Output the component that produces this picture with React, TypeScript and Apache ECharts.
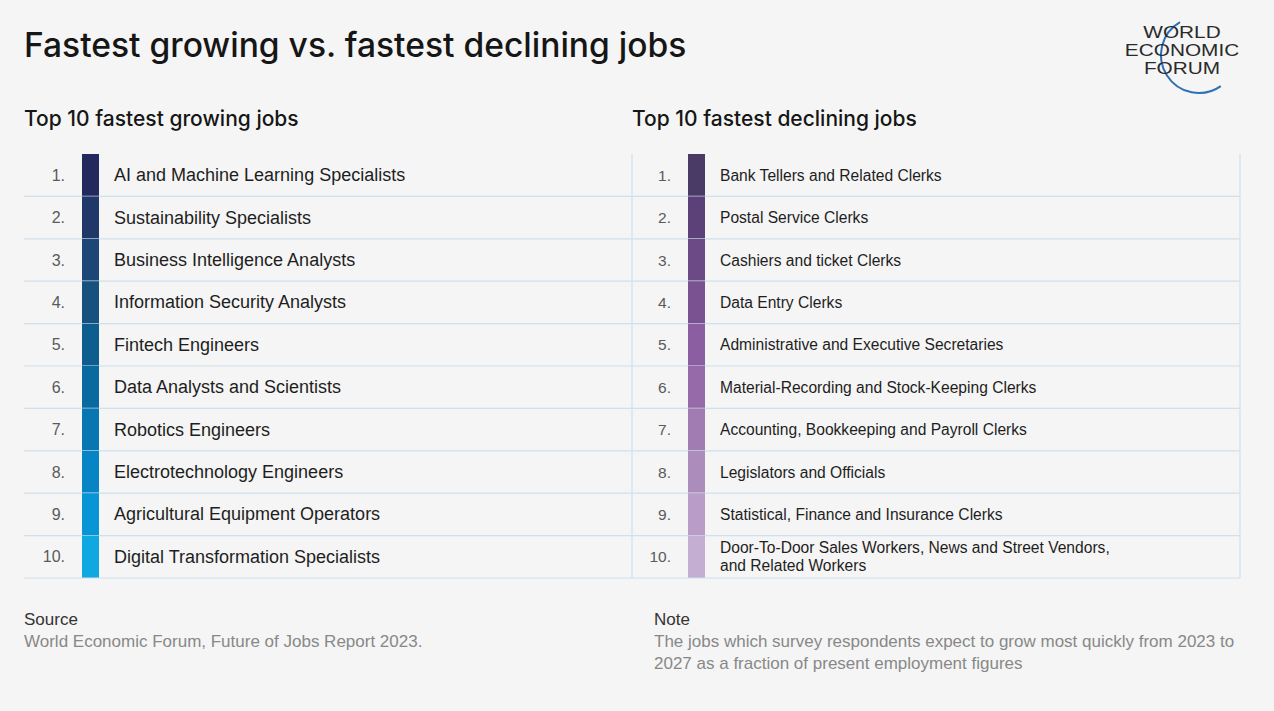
import React, { useEffect, useRef } from "react";
import * as echarts from "echarts";

const ranks = ["1.", "2.", "3.", "4.", "5.", "6.", "7.", "8.", "9.", "10."];

const growingJobs = [
  "AI and Machine Learning Specialists",
  "Sustainability Specialists",
  "Business Intelligence Analysts",
  "Information Security Analysts",
  "Fintech Engineers",
  "Data Analysts and Scientists",
  "Robotics Engineers",
  "Electrotechnology Engineers",
  "Agricultural Equipment Operators",
  "Digital Transformation Specialists",
];

const decliningJobs = [
  "Bank Tellers and Related Clerks",
  "Postal Service Clerks",
  "Cashiers and ticket Clerks",
  "Data Entry Clerks",
  "Administrative and Executive Secretaries",
  "Material-Recording and Stock-Keeping Clerks",
  "Accounting, Bookkeeping and Payroll Clerks",
  "Legislators and Officials",
  "Statistical, Finance and Insurance Clerks",
  "Door-To-Door Sales Workers, News and Street Vendors,\nand Related Workers",
];

const growingColors = [
  "#23295c", "#1f3869", "#1c4675", "#17527f", "#0e5d8f",
  "#086a9e", "#0776b1", "#0784c4", "#0795d6", "#10a8e0",
];

const decliningColors = [
  "#4a3a66", "#5c4178", "#6c4a86", "#7a5292", "#8a5ea0",
  "#9669a8", "#a07cb2", "#ab8cbb", "#b99cc8", "#c4aed2",
];

const FONT = "'Liberation Sans', Arial, Helvetica, sans-serif";
const HEAD_FONT = "Inter, 'Liberation Sans', Arial, sans-serif";
const LINE = "#cfe0ee";

type Layout = {
  rankRight: number;
  swatchX: number;
  swatchW: number;
  textX: number;
  nameSize: number;
  rankSize: number;
  vlines: boolean;
};

function makeRenderer(names: string[], colors: string[], lay: Layout) {
  return (params: any, api: any) => {
    const idx = api.value(1);
    const left = api.coord([0, idx]);
    const right = api.coord([1, idx]);
    const h = api.size([0, 1])[1];
    const x0 = left[0];
    const x1 = right[0];
    const yc = left[1];
    const top = yc - h / 2;
    const bottom = yc + h / 2;
    const children: any[] = [
      {
        type: "rect",
        shape: { x: x0 + lay.swatchX, y: top, width: lay.swatchW, height: h },
        style: { fill: colors[idx] },
      },
      {
        type: "line",
        shape: { x1: x0, y1: bottom, x2: x1, y2: bottom },
        style: { stroke: LINE, lineWidth: 1.2 },
      },
      {
        type: "text",
        style: {
          x: x0 + lay.rankRight,
          y: yc,
          text: ranks[idx],
          align: "right",
          verticalAlign: "middle",
          fill: "#5a5a5a",
          font: `${lay.rankSize}px ${FONT}`,
        },
      },
      {
        type: "text",
        style: {
          x: x0 + lay.textX,
          y: yc,
          text: names[idx],
          align: "left",
          verticalAlign: "middle",
          fill: "#1e1e1e",
          font: `${lay.nameSize}px ${FONT}`,
          lineHeight: 18,
        },
      },
    ];
    if (lay.vlines) {
      children.push(
        {
          type: "line",
          shape: { x1: x0, y1: top, x2: x0, y2: bottom },
          style: { stroke: LINE, lineWidth: 1.2 },
        },
        {
          type: "line",
          shape: { x1: x1, y1: top, x2: x1, y2: bottom },
          style: { stroke: LINE, lineWidth: 1.2 },
        }
      );
    }
    return { type: "group", children };
  };
}

function txt(x: number, y: number, text: string, font: string, fill: string, extra: any = {}) {
  return {
    type: "text",
    x,
    y,
    style: { text, font, fill, align: "left", verticalAlign: "middle", ...extra },
  };
}

export default function App() {
  const ref = useRef<HTMLDivElement>(null);

  useEffect(() => {
    document.body.style.margin = "0";
    if (!ref.current) return;
    const chart = echarts.init(ref.current, undefined, { renderer: "svg" });

    const rowData = ranks.map((_, i) => [0, i]);

    const logoText = (y: number, text: string, sx: number) => ({
      type: "text",
      x: 1182,
      y,
      scaleX: sx,
      style: {
        text,
        align: "center",
        verticalAlign: "middle",
        fill: "#2a2a2a",
        font: `16px ${FONT}`,
      },
    });

    chart.setOption({
      animation: false,
      backgroundColor: "#f5f5f5",
      grid: [
        { left: 24, top: 154, width: 608, height: 424 },
        { left: 632, top: 154, width: 608, height: 424 },
      ],
      xAxis: [
        { type: "value", gridIndex: 0, min: 0, max: 1, show: false },
        { type: "value", gridIndex: 1, min: 0, max: 1, show: false },
      ],
      yAxis: [
        { type: "category", gridIndex: 0, data: ranks, inverse: true, show: false },
        { type: "category", gridIndex: 1, data: ranks, inverse: true, show: false },
      ],
      series: [
        {
          type: "custom",
          xAxisIndex: 0,
          yAxisIndex: 0,
          encode: { x: 0, y: 1 },
          data: rowData,
          renderItem: makeRenderer(growingJobs, growingColors, {
            rankRight: 41,
            swatchX: 58,
            swatchW: 17,
            textX: 90,
            nameSize: 18,
            rankSize: 16,
            vlines: false,
          }),
        },
        {
          type: "custom",
          xAxisIndex: 1,
          yAxisIndex: 1,
          encode: { x: 0, y: 1 },
          data: rowData,
          renderItem: makeRenderer(decliningJobs, decliningColors, {
            rankRight: 39,
            swatchX: 56,
            swatchW: 17,
            textX: 88,
            nameSize: 15.6,
            rankSize: 15.5,
            vlines: true,
          }),
        },
      ],
      graphic: [
        txt(24, 44, "Fastest growing vs. fastest declining jobs", `500 33.6px ${HEAD_FONT}`, "#161616"),
        txt(24, 118, "Top 10 fastest growing jobs", `500 21px ${HEAD_FONT}`, "#161616"),
        txt(632, 118, "Top 10 fastest declining jobs", `500 21px ${HEAD_FONT}`, "#161616"),
        txt(24, 619, "Source", `17px ${FONT}`, "#333"),
        txt(24, 641, "World Economic Forum, Future of Jobs Report 2023.", `17px ${FONT}`, "#888"),
        txt(654, 619, "Note", `17px ${FONT}`, "#333"),
        txt(
          654,
          652,
          "The jobs which survey respondents expect to grow most quickly from 2023 to\n2027 as a fraction of present employment figures",
          `17px ${FONT}`,
          "#888",
          { lineHeight: 22 }
        ),
        {
          type: "arc",
          shape: {
            cx: 1199,
            cy: 55,
            r: 38,
            startAngle: (55 * Math.PI) / 180,
            endAngle: (240 * Math.PI) / 180,
            clockwise: true,
          },
          style: { stroke: "#2f6fb3", lineWidth: 2, fill: null },
        },
        logoText(32, "WORLD", 1.3),
        logoText(50, "ECONOMIC", 1.3),
        logoText(68, "FORUM", 1.3),
      ],
    });

    return () => chart.dispose();
  }, []);

  return <div ref={ref} style={{ width: 1274, height: 711 }} />;
}
